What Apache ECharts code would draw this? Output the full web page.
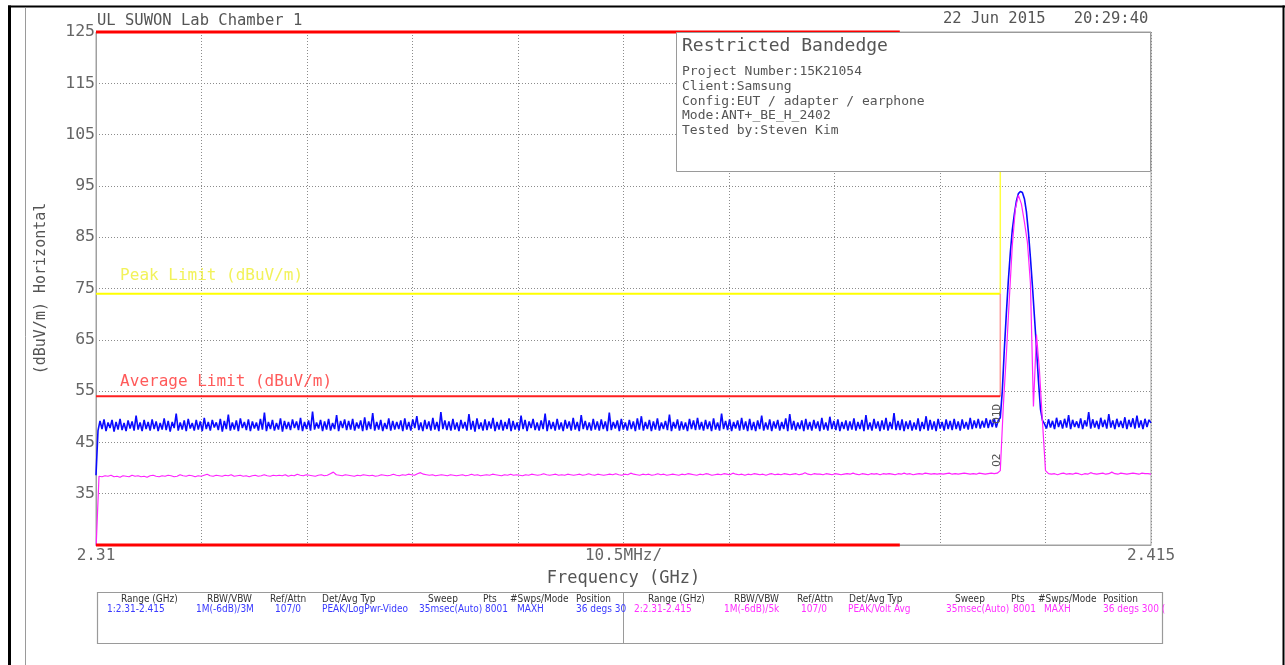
<!DOCTYPE html>
<html>
<head>
<meta charset="utf-8">
<script src="https://cdn.jsdelivr.net/npm/echarts@6/dist/echarts.min.js"></script>
<style>
html,body{margin:0;padding:0;background:#fff;}
#chart{width:1285px;height:665px;}
</style>
</head>
<body>
<div id="chart"></div>
<script>
// ---------- axes ----------
const xMin = 2.31, xMax = 2.415, xStep = 0.0105;
const yMin = 25, yMax = 125, yStep = 10;
const xTickLabels = ['2.31', '', '', '', '', '10.5MHz/', '', '', '', '', '2.415'];

// ---------- limits ----------
const restrictedBand = [2.31, 2.39];          // GHz
const restrictedLevels = [125, 25];            // dBuV/m (top / bottom bars)
const limitStart = 2.31, limitEdge = 2.4;      // GHz
const peakLimit = 74, avgLimit = 54;           // dBuV/m

// ---------- trace 1 (blue, peak) ----------
const blueLowRange = [2.31, 2.3998];
const blueLow = [38.6,
47.3,49.2,47.6,49.5,47.2,48.9,47.8,49.4,47.1,49.0,47.5,49.6,47.4,48.8,47.2,49.3,47.7,49.1,47.3,50.2,47.5,48.9,47.2,49.4,47.6,
49.0,47.3,49.5,47.6,49.1,47.2,48.8,47.5,49.7,47.4,49.2,47.1,49.0,47.8,50.6,47.3,48.9,47.5,49.3,47.2,49.6,47.7,48.8,47.3,49.4,
47.5,49.1,47.2,49.8,47.6,49.0,47.3,49.4,47.9,48.9,47.4,49.6,47.1,49.2,47.6,50.4,47.3,48.9,47.5,49.3,47.2,49.7,47.8,49.0,47.4,
49.5,47.2,49.1,47.7,48.9,47.3,49.6,47.5,50.8,47.2,49.0,47.6,49.4,47.3,48.8,47.5,49.7,47.1,49.2,47.6,49.0,47.4,49.5,47.8,49.1,
47.4,49.8,47.2,49.0,47.6,49.3,47.3,51.0,47.5,48.9,47.7,49.4,47.2,49.1,47.5,49.6,47.3,48.8,47.6,50.3,47.2,49.2,47.8,49.5,47.4,
49.2,47.5,49.6,47.3,48.9,47.7,49.3,47.2,49.9,47.4,49.1,47.6,50.7,47.3,49.0,47.5,49.4,47.2,48.8,47.6,49.7,47.3,49.2,47.5,49.0,
47.6,49.3,47.2,49.7,47.5,49.0,47.3,49.5,47.8,50.1,47.4,48.9,47.2,49.4,47.6,49.1,47.3,49.8,47.5,49.0,47.2,50.9,47.6,49.3,47.4,
49.1,47.3,49.6,47.5,48.9,47.2,49.4,47.7,49.0,47.3,50.5,47.5,49.2,47.1,49.7,47.6,48.9,47.3,49.5,47.4,49.1,47.7,49.8,47.2,49.0,
47.5,49.4,47.3,49.0,47.6,49.7,47.2,49.2,47.5,48.9,47.3,50.2,47.6,49.4,47.2,49.1,47.8,49.6,47.4,48.9,47.3,49.3,47.6,50.6,47.2,
49.3,47.6,49.0,47.3,49.6,47.5,48.9,47.2,49.4,47.7,49.1,47.3,49.8,47.5,49.0,47.2,50.3,47.6,49.2,47.4,48.9,47.3,49.6,47.5,49.1,
47.3,49.5,47.6,49.1,47.2,50.8,47.4,49.0,47.7,49.3,47.2,49.6,47.5,48.9,47.3,49.4,47.6,49.1,47.2,49.7,47.5,50.1,47.3,49.0,47.6,
49.4,47.2,49.1,47.5,49.7,47.3,48.9,47.6,49.2,47.4,50.4,47.2,49.0,47.7,49.5,47.3,49.1,47.5,48.9,47.2,49.6,47.6,49.3,47.4,49.8,
47.5,49.0,47.3,49.4,47.6,49.1,47.2,49.7,47.5,48.9,47.3,50.6,47.6,49.2,47.4,49.5,47.2,49.0,47.7,49.3,47.3,49.8,47.5,49.1,47.2,
49.6,47.4,49.0,47.2,49.3,47.6,50.2,47.3,48.9,47.5,49.5,47.2,49.1,47.7,49.4,47.3,49.0,47.6,49.7,47.2,50.5,47.5,49.2,47.3,48.9,
47.6,49.3,47.2,49.6,47.5,49.0,47.3,49.4,47.7,49.1,47.2,49.8,47.5,48.9,47.3,50.0,47.6,49.2,47.4,49.5,47.2,49.0,47.6,49.3,47.3,
49.1,47.5,49.7,47.3,49.0,47.6,49.4,47.2,50.3,47.5,48.9,47.3,49.6,47.7,49.1,47.2,49.3,47.5,49.8,47.3,49.0,47.6,50.7,47.4,49.2,
47.4,49.5,47.2,49.1,47.6,49.3,47.3,48.9,47.5,49.7,47.2,49.0,47.6,50.1,47.3,49.4,47.5,49.1,47.2,49.6,47.7,49.0,47.3,49.5,47.6,
49.2,47.4,49.6,47.6,49.1,47.3,49.5,47.7,49.0,47.5,49.8,47.6,49.3,47.8,49.6,47.7,49.2,47.9,49.7,47.8,49.4,48.0,49.6,47.9,49.3];
const bluePeakRange = [2.4, 2.4044];
const bluePeak = [49.8,55,63,70,76.5,82,86.5,89.5,92,93.5,93.9,93.7,92.5,90,86,81,75.5,69.5,63.5,57,51.5,49.3,48.6];
const blueHighRange = [2.4046, 2.415];
const blueHigh = [47.7,49.5,47.9,49.2,47.6,49.8,48.0,49.3,47.7,49.6,47.9,50.3,47.6,49.4,48.0,49.1,47.8,49.7,47.6,49.3,48.1,50.9,47.7,49.5,47.9,49.2,47.6,49.8,48.0,49.4,47.7,50.5,47.9,49.3,47.6,49.6,48.0,49.2,47.8,49.9,47.6,49.4,48.0,49.7,47.7,50.2,47.9,49.3,47.6,49.6,48.0,49.4,48.8];

// ---------- trace 2 (magenta, average) ----------
const magLowRange = [2.31, 2.3997];
const magLow = [24,
38.4,38.3,38.5,38.4,38.6,38.3,38.4,38.2,38.5,38.4,38.3,38.6,38.4,38.5,38.3,38.4,38.2,38.5,38.6,38.4,
38.3,38.5,38.4,38.6,38.5,38.3,38.4,38.7,38.5,38.4,38.6,38.5,38.3,38.5,38.4,38.6,38.8,38.5,38.4,38.6,
38.5,38.4,38.6,38.5,38.7,38.4,38.5,38.6,38.4,38.5,38.3,38.5,38.6,38.4,38.5,38.7,38.5,38.4,38.6,38.5,
38.6,38.5,38.7,38.4,38.6,38.5,38.8,38.6,38.5,38.7,38.6,38.5,38.4,38.6,38.7,38.5,38.6,38.9,39.2,38.7,
38.6,38.5,38.7,38.6,38.5,38.4,38.6,38.5,38.7,38.6,38.5,38.6,38.4,38.5,38.7,38.6,38.5,38.6,38.8,38.6,
38.5,38.7,38.6,38.8,38.7,38.6,38.9,39.1,38.8,38.7,38.6,38.7,38.5,38.6,38.7,38.6,38.5,38.7,38.6,38.5,
38.6,38.7,38.5,38.6,38.8,38.6,38.7,38.5,38.6,38.7,38.6,38.8,38.7,38.6,38.5,38.7,38.6,38.8,38.6,38.7,
38.6,38.5,38.7,38.6,38.8,38.7,38.6,38.7,38.9,38.7,38.6,38.7,38.8,38.6,38.7,38.6,38.8,38.7,38.6,38.7,
38.8,38.6,38.7,38.9,38.7,38.6,38.8,38.7,38.6,38.7,38.8,38.7,38.9,38.7,38.6,38.8,38.7,39.0,38.8,38.7,
38.6,38.8,38.7,38.8,38.6,38.7,38.9,38.7,38.8,38.6,38.7,38.8,38.7,38.6,38.8,38.7,38.9,38.8,38.7,38.6,
38.8,38.7,38.9,38.8,38.6,38.7,38.8,38.7,38.9,38.8,38.7,39.0,38.8,38.7,38.8,38.6,38.8,38.7,38.9,38.8,
38.7,38.8,38.6,38.8,38.9,38.7,38.8,38.7,38.9,38.8,38.7,38.8,38.9,38.7,38.8,39.1,38.8,38.7,38.9,38.8,
38.8,38.7,38.9,38.8,38.7,38.9,38.8,38.7,38.8,38.9,38.8,39.0,38.8,38.7,38.9,38.8,38.7,38.9,38.8,38.9,
38.7,38.9,38.8,38.9,38.8,38.7,38.9,38.8,39.0,38.8,38.9,38.7,38.8,38.9,38.8,39.0,38.9,38.8,38.9,38.8,
38.9,38.8,38.9,39.0,38.8,38.9,38.8,38.9,39.0,38.9,38.8,38.9,38.8,39.0,38.9,38.8,38.9,39.0,38.9,39.0];
const magPeakRange = [2.4, 2.4048];
const magPeak = [39.5,52,62,73,83.5,90.5,93.2,91.5,88,84,76,52,66,59,49,39.5,38.9];
const magHighRange = [2.4051, 2.415];
const magHigh = [38.8,38.9,38.7,38.9,39.0,38.8,38.9,38.8,39.0,38.9,38.7,38.9,38.8,39.1,38.9,38.8,38.9,39.0,38.8,38.9,39.2,38.9,38.8,39.0,38.9,38.8,38.9,39.0,38.9,38.8,39.0,38.9,38.9,38.8];

// ---------- texts ----------
const headerText = 'UL SUWON Lab Chamber 1';
const dateText = '22 Jun 2015   20:29:40';
const infoTitle = 'Restricted Bandedge';
const infoLines = ['Project Number:15K21054', 'Client:Samsung', 'Config:EUT / adapter / earphone', 'Mode:ANT+_BE_H_2402', 'Tested by:Steven Kim'];
const tableHeaders = ['Range (GHz)', 'RBW/VBW', 'Ref/Attn', 'Det/Avg Typ', 'Sweep', 'Pts', '#Swps/Mode', 'Position'];
const trace1Settings = ['1:2.31-2.415', '1M(-6dB)/3M', '107/0', 'PEAK/LogPwr-Video', '35msec(Auto)', '8001', 'MAXH', '36 degs 30'];
const trace2Settings = ['2:2.31-2.415', '1M(-6dB)/5k', '107/0', 'PEAK/Volt Avg', '35msec(Auto)', '8001', 'MAXH', '36 degs 300 ('];

// ---------- build ----------
function spread(range, vals) {
  const n = vals.length;
  return vals.map((v, i) => [range[0] + (range[1] - range[0]) * i / (n - 1), v]);
}
const blueData = spread(blueLowRange, blueLow).concat(spread(bluePeakRange, bluePeak), spread(blueHighRange, blueHigh));
const magData = spread(magLowRange, magLow).concat(spread(magPeakRange, magPeak), spread(magHighRange, magHigh));

const MONO = "'DejaVu Sans Mono', monospace";
const NARROW = "'Liberation Sans Narrow', 'DejaVu Sans Condensed', sans-serif";
const chart = echarts.init(document.getElementById('chart'), null, {renderer: 'canvas'});

function lineSeries(data, color, width, clip) {
  return {type: 'line', data: data, showSymbol: false, symbol: 'none', clip: clip,
    lineStyle: {color: color, width: width}, silent: true, animation: false};
}

chart.setOption({
  animation: false,
  backgroundColor: '#fff',
  textStyle: {fontFamily: MONO},
  grid: {left: 96, top: 32, width: 1055, height: 513, show: true, borderColor: '#a0a0a0', borderWidth: 1, backgroundColor: 'transparent'},
  xAxis: {
    type: 'value', min: xMin, max: xMax, interval: xStep,
    name: 'Frequency (GHz)', nameLocation: 'middle', nameGap: 25,
    nameTextStyle: {color: '#555', fontSize: 17, fontFamily: MONO},
    axisLine: {show: true, lineStyle: {color: '#a0a0a0'}},
    axisTick: {show: false},
    axisLabel: {color: '#666', fontSize: 16, fontFamily: MONO, margin: 3, hideOverlap: false,
      showMinLabel: true, showMaxLabel: true,
      formatter: v => xTickLabels[Math.round((v - xMin) / xStep)] || ''},
    splitLine: {show: true, lineStyle: {color: '#8c8c8c', type: [1, 2], width: 1}}
  },
  yAxis: {
    type: 'value', min: yMin, max: yMax, interval: yStep,
    name: '(dBuV/m) Horizontal', nameLocation: 'middle', nameGap: 47, nameRotate: 90,
    nameTextStyle: {color: '#555', fontSize: 15, fontFamily: MONO},
    axisLine: {show: true, lineStyle: {color: '#a0a0a0'}},
    axisTick: {show: false},
    axisLabel: {color: '#666', fontSize: 16.5, fontFamily: MONO, margin: 1,
      formatter: v => Math.abs(v - yMin) < 0.01 ? '' : String(Math.round(v))},
    splitLine: {show: true, lineStyle: {color: '#8c8c8c', type: [1, 2], width: 1}}
  },
  series: [
    lineSeries([[limitStart, peakLimit], [limitEdge, peakLimit]], '#ffff00', 2, false),
    lineSeries([[limitEdge, peakLimit], [limitEdge, yMax]], '#ffff40', 1.5, false),
    lineSeries([[limitEdge, avgLimit], [limitEdge, peakLimit]], '#ff9a9a', 1.5, false),
    lineSeries([[limitStart, avgLimit], [limitEdge, avgLimit]], '#ff2020', 2, false),
    lineSeries(blueData, '#0a0aff', 1.6, true),
    lineSeries(magData, '#ff22ff', 1.2, true),
    lineSeries([[restrictedBand[0], restrictedLevels[0]], [restrictedBand[1], restrictedLevels[0]]], '#ff0000', 3, false),
    lineSeries([[restrictedBand[0], restrictedLevels[1]], [restrictedBand[1], restrictedLevels[1]]], '#ff0000', 3, false)
  ]
});

// ---------- annotations ----------
const px = (f, v) => chart.convertToPixel({gridIndex: 0}, [f, v]);
const Z = 100;
const els = [];
// page frame
els.push({type: 'line', z: Z, shape: {x1: 8, y1: 6.5, x2: 1285, y2: 6.5}, style: {stroke: '#000', lineWidth: 2}});
els.push({type: 'line', z: Z, shape: {x1: 9.5, y1: 5.5, x2: 9.5, y2: 665}, style: {stroke: '#000', lineWidth: 3}});
els.push({type: 'line', z: Z, shape: {x1: 1283.5, y1: 5.5, x2: 1283.5, y2: 665}, style: {stroke: '#000', lineWidth: 2}});
els.push({type: 'line', z: Z, shape: {x1: 25.5, y1: 7.5, x2: 25.5, y2: 665}, style: {stroke: '#9a9a9a', lineWidth: 1}});
// header
els.push({type: 'text', z: Z, x: 97, y: 21, style: {text: headerText, font: '15.5px ' + MONO, fill: '#555', textVerticalAlign: 'middle'}});
els.push({type: 'text', z: Z, x: 943, y: 19, style: {text: dateText, font: '15.5px ' + MONO, fill: '#555', textVerticalAlign: 'middle'}});
// info box
els.push({type: 'rect', z: Z, shape: {x: 676.5, y: 32.5, width: 474, height: 139}, style: {fill: '#fff', stroke: '#9a9a9a', lineWidth: 1}});
els.push({type: 'text', z: Z + 1, x: 682, y: 46, style: {text: infoTitle, font: '18px ' + MONO, fill: '#555', textVerticalAlign: 'middle'}});
infoLines.forEach((t, i) => {
  els.push({type: 'text', z: Z + 1, x: 682, y: 72 + i * 14.6, style: {text: t, font: '13px ' + MONO, fill: '#555', textVerticalAlign: 'middle'}});
});
// limit labels
const pk = px(xMin + 0.0024, peakLimit);
const av = px(xMin + 0.0024, avgLimit);
els.push({type: 'text', z: Z, x: pk[0], y: pk[1] - 18, style: {text: 'Peak Limit (dBuV/m)', font: '16px ' + MONO, fill: '#f2f25a', textVerticalAlign: 'middle'}});
els.push({type: 'text', z: Z, x: av[0], y: av[1] - 14, style: {text: 'Average Limit (dBuV/m)', font: '16px ' + MONO, fill: '#ff5a5a', textVerticalAlign: 'middle'}});
// marker labels (rotated)
const m1 = px(2.3997, 48.8);
const m2 = px(2.3997, 38.8);
els.push({type: 'text', z: Z, x: m1[0], y: m1[1] - 9, rotation: Math.PI / 2, style: {text: 'O1D', font: '11px ' + MONO, fill: '#555', textAlign: 'center', textVerticalAlign: 'middle'}});
els.push({type: 'text', z: Z, x: m2[0], y: m2[1] - 14, rotation: Math.PI / 2, style: {text: 'O2', font: '11px ' + MONO, fill: '#555', textAlign: 'center', textVerticalAlign: 'middle'}});
// bottom settings table
els.push({type: 'rect', z: Z, shape: {x: 97.5, y: 592.5, width: 1065, height: 51}, style: {fill: 'none', stroke: '#9a9a9a', lineWidth: 1.2}});
els.push({type: 'line', z: Z, shape: {x1: 623.5, y1: 592.5, x2: 623.5, y2: 643.5}, style: {stroke: '#9a9a9a', lineWidth: 1}});
const hdrX1 = [121, 207, 270, 322, 428, 483, 510, 576];
const valX1 = [107, 196, 275, 322, 419, 485, 517, 576];
const hdrX2 = [648, 734, 797, 849, 955, 1011, 1038, 1103];
const valX2 = [634, 724, 801, 848, 946, 1013, 1044, 1103];
tableHeaders.forEach((t, i) => {
  els.push({type: 'text', z: Z, x: hdrX1[i], y: 599, style: {text: t, font: '10px ' + NARROW, fill: '#333', textVerticalAlign: 'middle'}});
  els.push({type: 'text', z: Z, x: hdrX2[i], y: 599, style: {text: t, font: '10px ' + NARROW, fill: '#333', textVerticalAlign: 'middle'}});
});
trace1Settings.forEach((t, i) => {
  els.push({type: 'text', z: Z, x: valX1[i], y: 609, style: {text: t, font: '10px ' + NARROW, fill: '#3a3aff', textVerticalAlign: 'middle'}});
});
trace2Settings.forEach((t, i) => {
  els.push({type: 'text', z: Z, x: valX2[i], y: 609, style: {text: t, font: '10px ' + NARROW, fill: '#ff30ff', textVerticalAlign: 'middle'}});
});
chart.setOption({graphic: {elements: els}});
</script>
</body>
</html>
